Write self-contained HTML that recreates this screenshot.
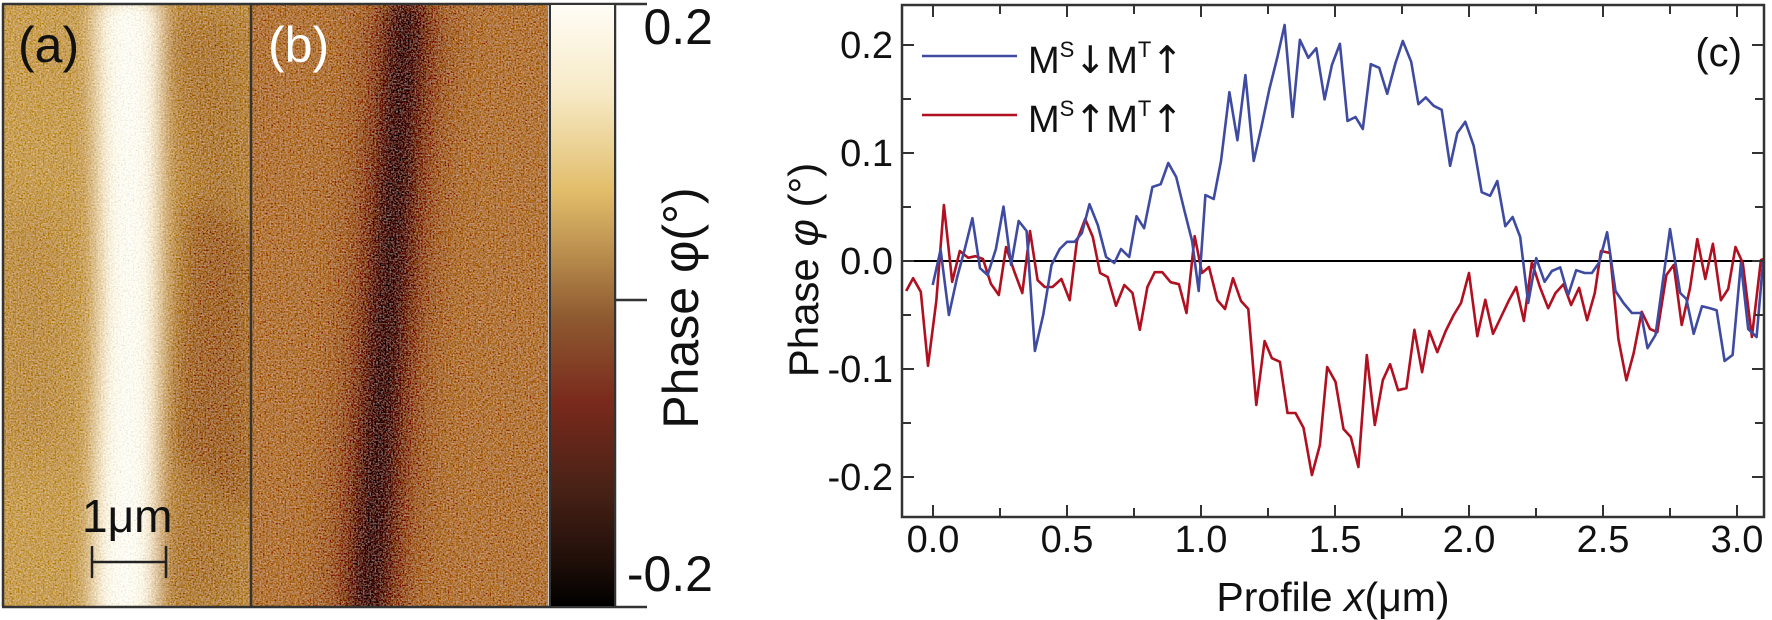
<!DOCTYPE html>
<html><head><meta charset="utf-8"><style>
html,body{margin:0;padding:0;background:#fff;}
svg{display:block;font-family:"Liberation Sans",Arial,sans-serif;}
.ar{font-family:"DejaVu Sans",sans-serif;font-size:38px;}
</style></head><body>
<svg id="s" width="1772" height="620" viewBox="0 0 1772 620" xmlns="http://www.w3.org/2000/svg">
<defs>
<filter id="nz" x="0" y="0" width="1" height="1">
<feTurbulence type="fractalNoise" baseFrequency="0.6" numOctaves="2" seed="3" result="t"/>
<feColorMatrix in="t" type="matrix" values="0.33 0.33 0.33 0 0 0.33 0.33 0.33 0 0 0.33 0.33 0.33 0 0 0 0 0 0 1" result="g"/>
<feComposite in="SourceGraphic" in2="g" operator="arithmetic" k1="0" k2="1" k3="1.0" k4="-0.5"/>
</filter>
<filter id="bl" x="-50%" y="-10%" width="200%" height="120%"><feGaussianBlur stdDeviation="12"/></filter>
<filter id="bl2" x="-50%" y="-10%" width="200%" height="120%"><feGaussianBlur stdDeviation="25"/></filter>
<linearGradient id="cb" x1="0" y1="0" x2="0" y2="1">
<stop offset="0" stop-color="#fffdf6"/>
<stop offset="0.15" stop-color="#f6e9c4"/>
<stop offset="0.31" stop-color="#e2bd6a"/>
<stop offset="0.42" stop-color="#b78b4c"/>
<stop offset="0.52" stop-color="#8e5a30"/>
<stop offset="0.66" stop-color="#7a2a1c"/>
<stop offset="0.8" stop-color="#4a2216"/>
<stop offset="0.93" stop-color="#1e0e08"/>
<stop offset="1" stop-color="#000"/>
</linearGradient>
<clipPath id="ca"><rect x="4" y="5" width="247" height="602"/></clipPath>
<clipPath id="cbp"><rect x="252" y="5" width="296" height="602"/></clipPath>
<clipPath id="pc"><rect x="902" y="5" width="862" height="512"/></clipPath>
</defs>

<g clip-path="url(#ca)">
<g filter="url(#nz)">
<rect x="0" y="0" width="260" height="620" fill="#c9a05c"/>
<polygon points="150,0 260,0 260,620 140,620 170,420 185,200" fill="#b17f47" filter="url(#bl2)"/>
<polygon points="190,200 250,230 250,520 175,450" fill="#a26a3a" filter="url(#bl)" opacity="0.8"/>
<polygon points="0,200 60,220 60,450 0,470" fill="#b58650" filter="url(#bl2)" opacity="0.6"/>
<polygon points="95,0 160,0 158,300 155,620 92,620 100,300" fill="#fbf3dc" filter="url(#bl)"/>
<polygon points="108,0 150,0 148,300 145,620 104,620 112,300" fill="#fffdf4" filter="url(#bl)"/>
</g>
</g>
<g clip-path="url(#cbp)">
<g filter="url(#nz)">
<rect x="250" y="0" width="300" height="620" fill="#b47a46"/>
<polygon points="375,0 440,0 400,620 335,620" fill="#8a4a28" filter="url(#bl2)"/>
<polygon points="392,0 422,0 384,620 352,620" fill="#4a1c10" filter="url(#bl)"/>
</g>
</g>
<g stroke="#333" stroke-width="2.5" fill="none">
<line x1="2" y1="4" x2="647" y2="4"/>
<line x1="2" y1="607" x2="647" y2="607"/>
<line x1="3" y1="4" x2="3" y2="607"/>
<line x1="251" y1="4" x2="251" y2="607"/>
<line x1="550" y1="4" x2="550" y2="607"/>
<line x1="615" y1="4" x2="615" y2="607"/>
<line x1="615" y1="300" x2="647" y2="300"/>
</g>
<rect x="551" y="5" width="63" height="601" fill="url(#cb)"/>
<text x="18" y="62" font-size="50" fill="#111">(a)</text>
<text x="268" y="62" font-size="50" fill="#fff">(b)</text>
<text x="82" y="532" font-size="46" fill="#111">1μm</text>
<g stroke="#222" stroke-width="2.5"><line x1="92" y1="562" x2="166" y2="562"/><line x1="92" y1="546" x2="92" y2="578"/><line x1="166" y1="546" x2="166" y2="578"/></g>
<text x="713" y="44" font-size="50" text-anchor="end" fill="#111">0.2</text>
<text x="713" y="591" font-size="50" text-anchor="end" fill="#111">-0.2</text>
<text transform="translate(698,308) rotate(-90)" font-size="50" text-anchor="middle" fill="#111">Phase φ(°)</text>

<g id="ch"></g>
<text x="1742" y="66" font-size="40" text-anchor="end" fill="#111">(c)</text>
<text transform="translate(818,270) rotate(-90)" font-size="42" text-anchor="middle" fill="#111">Phase <tspan font-style="italic">φ</tspan> (°)</text>
<text x="1333" y="611" font-size="41" text-anchor="middle" fill="#111">Profile <tspan font-style="italic">x</tspan>(μm)</text>
<line x1="922" y1="56" x2="1017" y2="56" stroke="#3f4ba0" stroke-width="2.5"/>
<line x1="922" y1="115" x2="1017" y2="115" stroke="#b01020" stroke-width="2.5"/>
<text x="1028" y="73" font-size="38" fill="#111">M<tspan font-size="22" dy="-16">S</tspan><tspan class="ar" dy="16">↓</tspan><tspan>M</tspan><tspan font-size="22" dy="-16">T</tspan><tspan class="ar" dy="16">↑</tspan></text>
<text x="1028" y="132" font-size="38" fill="#111">M<tspan font-size="22" dy="-16">S</tspan><tspan class="ar" dy="16">↑</tspan><tspan>M</tspan><tspan font-size="22" dy="-16">T</tspan><tspan class="ar" dy="16">↑</tspan></text>
</svg>
<script>
(function(){
var NS="http://www.w3.org/2000/svg",g=document.getElementById("ch");
function el(t,a){var e=document.createElementNS(NS,t);for(var k in a)e.setAttribute(k,a[k]);g.appendChild(e);return e;}
function X(x){return 933+268*x;} function Y(v){return 261-1080*v;}
var b2=[686,720,710,632,735,795,760,700,783,630,806,553,829,678,852,695,877,630,900,524,923,670,946,560,970,585,995,885,1020,795,1045,670,1070,630,1092,612,1115,612,1137,590,1160,518,1185,570,1210,650,1235,665,1255,630,1280,650,1302,548,1325,578,1350,475,1375,468,1398,415,1422,450,1447,535,1470,610,1490,735];
var b3=[0,660,12,495,35,505,55,410,78,238,100,358,122,195,145,410,165,330,188,230,210,150,230,70,252,300,272,107,295,152,317,128,340,256,360,170,382,117,403,310,425,300,445,330,467,168,490,177,512,242,535,165,555,110,578,162,598,268,618,251,640,272,662,282,685,422,705,340,727,312,750,372,772,488,795,497,815,460,837,573,857,550,878,600,900,765,922,653,945,712,965,685,988,676,1010,745,1032,683,1055,690,1075,690,1095,664,1117,588,1140,735,1162,765,1185,790,1210,790,1228,878,1250,845,1290,580,1318,740,1335,755,1355,842,1378,773,1400,778,1418,783,1440,910,1462,895,1485,665,1505,830,1528,850,1546,660];
var r2=[606,735,627,703,650,737,672,922,697,760,720,520,745,712,768,635,793,652,815,648,838,655,862,717,886,745,908,625,932,685,957,740,980,585,1003,708,1025,725,1048,725,1075,705,1100,758,1122,610,1147,555,1170,600,1192,690,1215,700,1240,772,1265,720,1290,740,1312,832,1335,725,1357,688,1380,688,1405,713,1430,718,1453,790,1478,598,1500,690];
var r3=[0,705,22,675,45,758,66,780,88,703,110,760,130,780,152,1020,175,860,195,903,217,912,238,1040,260,1040,282,1077,305,1195,327,1120,347,925,370,962,392,1080,412,1100,433,1175,456,895,478,1070,500,958,520,918,542,983,565,978,587,832,608,938,628,835,650,888,673,835,695,795,715,765,737,690,760,848,782,757,803,842,825,800,847,758,867,725,888,810,910,663,932,725,955,778,975,740,997,718,1018,770,1040,727,1062,808,1083,740,1100,635,1125,640,1148,855,1170,958,1190,890,1212,787,1235,830,1255,838,1280,695,1300,670,1322,820,1345,728,1365,605,1387,705,1408,617,1430,758,1450,730,1470,625,1490,665,1515,850,1540,658,1546,655];
function pts(a,b){var p=[];for(var i=0;i<a.length;i+=2){p.push((933+(a[i]-687)*0.3309).toFixed(1)+","+(261+(a[i+1]-660)*0.4).toFixed(1));}
for(i=2;i<b.length;i+=2){p.push((1201+b[i]*0.3636).toFixed(1)+","+(261+(b[i+1]-660)*0.4).toFixed(1));}return p.join(" ");}
el("line",{x1:902,y1:261,x2:1764,y2:261,stroke:"#000","stroke-width":2});
var cg=document.createElementNS(NS,"g");cg.setAttribute("clip-path","url(#pc)");g.appendChild(cg);
[[r2,r3,"#b01020"],[b2,b3,"#3f4ba0"]].forEach(function(s){var e=document.createElementNS(NS,"polyline");e.setAttribute("points",pts(s[0],s[1]));e.setAttribute("fill","none");e.setAttribute("stroke",s[2]);e.setAttribute("stroke-width","2.6");e.setAttribute("stroke-linejoin","round");cg.appendChild(e);});
el("rect",{x:902,y:5,width:862,height:512,fill:"none",stroke:"#333","stroke-width":2.5});
for(var v=-0.2;v<=0.2001;v+=0.05){var y=Y(v),maj=Math.abs(Math.round(v*20))%2==0;var L=maj?12:9;
el("line",{x1:902,y1:y,x2:902+L,y2:y,stroke:"#333","stroke-width":2});el("line",{x1:1764,y1:y,x2:1764-L,y2:y,stroke:"#333","stroke-width":2});
if(maj){var t=el("text",{x:893,y:y+13,"font-size":38,"text-anchor":"end",fill:"#111"});t.textContent=(Math.abs(v)<1e-6?"0.0":v.toFixed(1));}}
for(var x=0;x<=3.0001;x+=0.25){var xp=X(x),mj=Math.abs(Math.round(x*4))%2==0;var L2=mj?12:9;
el("line",{x1:xp,y1:517,x2:xp,y2:517-L2,stroke:"#333","stroke-width":2});el("line",{x1:xp,y1:5,x2:xp,y2:5+L2,stroke:"#333","stroke-width":2});
if(mj){var t2=el("text",{x:xp,y:552,"font-size":38,"text-anchor":"middle",fill:"#111"});t2.textContent=x.toFixed(1);}}
})();
</script>
</body></html>
